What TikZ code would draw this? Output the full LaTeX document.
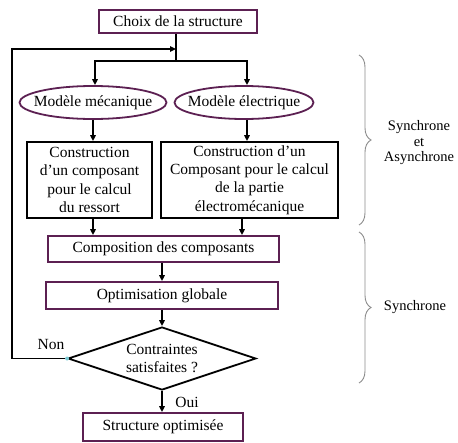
\documentclass[tikz,border=0pt]{standalone}
\usepackage{fontspec}
\setmainfont{Liberation Serif}
\usetikzlibrary{shapes.geometric,arrows.meta,decorations.pathreplacing}
\definecolor{purp}{RGB}{92,32,82}
\definecolor{bracegray}{RGB}{140,140,140}
\definecolor{tealdot}{RGB}{120,200,210}
\begin{document}
\begin{tikzpicture}[x=1pt,y=-1pt,
  txt/.style={font=\fontsize{15.5}{18.3}\selectfont, align=center, inner sep=0pt},
  pbox/.style={txt, draw=purp, line width=1.8pt, rectangle},
  bbox/.style={txt, draw=black, line width=1.8pt, rectangle},
  pell/.style={txt, draw=purp, line width=1.8pt, ellipse, inner xsep=-20pt, inner ysep=-3pt},
  conn/.style={line width=1.6pt, -{Triangle[length=6pt,width=5.5pt]}},
  plain/.style={line width=1.6pt},
  brc/.style={draw=bracegray, line width=0.9pt, decorate, decoration={brace, amplitude=12pt}},
  side/.style={font=\fontsize{14.5}{15.5}\selectfont, align=center, inner sep=0pt}]
\useasboundingbox (0,0) rectangle (458,442);
\node[pbox, minimum width=158pt, minimum height=23pt] (choix) at (178,21.5) {Choix de la structure};
\node[pell, minimum width=147pt, minimum height=33pt] (ell1) at (93,102.5) {Modèle mécanique};
\node[pell, minimum width=139pt, minimum height=33pt] (ell2) at (244,102.5) {Modèle électrique};
\node[bbox, minimum width=125pt, minimum height=76pt] (b1) at (89.5,180) {Construction\\d’un composant\\pour le calcul\\du ressort};
\node[bbox, minimum width=177pt, minimum height=76pt] (b2) at (249.5,180) {Construction d’un\\Composant pour le calcul\\de la partie\\électromécanique};
\node[pbox, minimum width=231pt, minimum height=26pt] (comp) at (163.5,249) {Composition des composants};
\node[pbox, minimum width=232pt, minimum height=27pt] (optim) at (162,295.5) {Optimisation globale};
\node[txt, draw=black, line width=1.8pt, diamond, aspect=2.97, minimum width=188pt, minimum height=63pt] (diam) at (162,358.5) {Contraintes\\satisfaites ?};
\node[pbox, minimum width=160pt, minimum height=28pt] (struct) at (163,427) {Structure optimisée};
\coordinate (j) at (176,61);
\coordinate (fb) at (176,49);
\coordinate (lc) at (12,358.5);
\draw[plain] (choix.south -| j) -- (j);
\draw[conn] (j) -| (ell1.north -| 95,0);
\draw[conn] (j) -| (ell2.north -| 247,0);
\draw[conn] (diam.west) -- (lc) |- (fb);
\draw[conn] (ell1.south -| 93,0) -- (b1.north -| 93,0);
\draw[conn] (ell2.south -| 247,0) -- (b2.north -| 247,0);
\draw[conn] (b1.south -| 93,0) -- (comp.north -| 93,0);
\draw[conn] (b2.south -| 242,0) -- (comp.north -| 242,0);
\draw[conn] (comp.south -| 162,0) -- (optim.north -| 162,0);
\draw[conn] (optim.south -| 162,0) -- (diam.north);
\draw[conn] (diam.south) -- (struct.north -| diam.south);
\fill[tealdot] (diam.west) circle (2pt);
\node[txt] (non) at (51,344) {Non};
\node[txt] (oui) at (187,402) {Oui};
\draw[brc] (359,55) -- (359,225);
\draw[brc] (359,232) -- (359,383);
\node[side] (s1) at (419,143) {Synchrone\\et\\Asynchrone};
\node[side] (s2) at (415,307) {Synchrone};
\end{tikzpicture}
\end{document}
